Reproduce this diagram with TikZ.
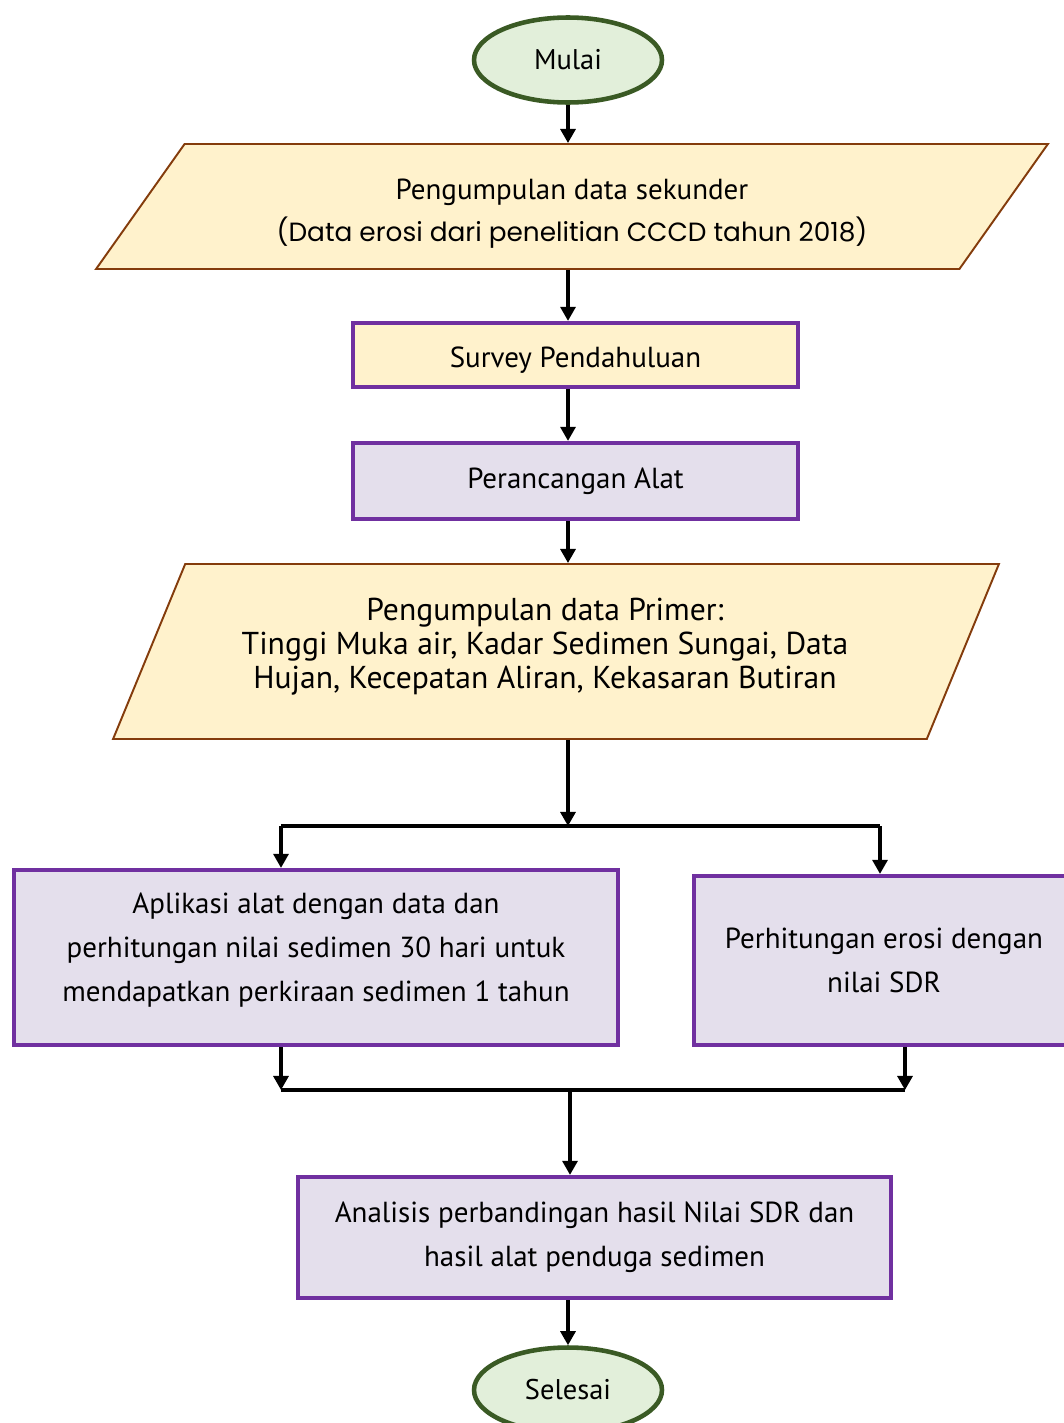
\documentclass[tikz,border=0pt]{standalone}
\usepackage{fontspec}
\setmainfont{PT Sans}
\newfontfamily\gothicfont{Poppins}
\usetikzlibrary{shapes.geometric,arrows.meta}
\definecolor{termfill}{HTML}{E2EFDA}
\definecolor{termline}{HTML}{3A5A24}
\definecolor{yelfill}{HTML}{FFF2CC}
\definecolor{ioline}{HTML}{843C0C}
\definecolor{lavfill}{HTML}{E4DFEC}
\definecolor{purpline}{HTML}{7030A0}

\begin{document}
\begin{tikzpicture}[x=0.02cm,y=-0.02cm,
	termbox/.style={ellipse, draw=termline, fill=termfill, line width=2.6pt, minimum width=3.76cm, minimum height=1.7cm, font=\fontsize{16.2}{19}\selectfont},
	iobox/.style={trapezium, trapezium stretches body, draw=ioline, fill=yelfill, line width=1.1pt, inner ysep=0pt, align=center},
	procbox/.style={rectangle, draw=purpline, line width=2.4pt, align=center, font=\fontsize{16.5}{25}\selectfont},
	arr/.style={-{Triangle[length=8pt,width=8.5pt]}, line width=1.9pt},
	conn/.style={line width=1.9pt}]
			\useasboundingbox (0,0) rectangle (1064,1423);

			% Start and end
			\node[termbox] (mulai) at (568,60) {Mulai};
			\node[termbox] (selesai) at (568,1390) {Selesai};

			% Data input
			\node[iobox, trapezium left angle=54.7, trapezium right angle=125.3, minimum width=19.04cm] (sekunder) at (572,206.5)
				{\parbox[c][2.5cm][c]{15cm}{\centering\vspace{0.3cm}\fontsize{16.5}{24}\selectfont
				Pengumpulan data sekunder\\ {\gothicfont\fontsize{15}{24}\selectfont(Data erosi dari penelitian CCCD tahun 2018)}}};
			\node[iobox, trapezium left angle=67.6, trapezium right angle=112.4, minimum width=17.72cm] (primer) at (556,651.5)
				{\parbox[c][3.5cm][c]{14cm}{\centering\fontsize{18}{19.3}\selectfont
				Pengumpulan data Primer:\\ Tinggi Muka air, Kadar Sedimen Sungai, Data\\ Hujan, Kecepatan Aliran, Kekasaran Butiran\par\vspace{0.2cm}}\hspace*{0.44cm}};

			% Process steps
			\node[procbox, fill=yelfill, minimum width=8.9cm, minimum height=1.28cm] (survey) at (575.5,355)
				{\parbox[c][1cm][c]{8cm}{\centering\vspace{0.2cm}Survey Pendahuluan}};
			\node[procbox, fill=lavfill, minimum width=8.9cm, minimum height=1.52cm] (alat) at (575.5,481) {Perancangan Alat};
			\node[procbox, fill=lavfill, minimum width=12.08cm, minimum height=3.5cm] (aplikasi) at (316,957.5)
				{\parbox[c][3cm][c]{11.5cm}{\centering Aplikasi alat dengan data dan\\ perhitungan nilai sedimen 30 hari untuk\\ mendapatkan perkiraan sedimen 1 tahun\par\vspace{0.28cm}}};
			\node[procbox, fill=lavfill, minimum width=7.6cm, minimum height=3.38cm] (hitung) at (884,960.5)
				{Perhitungan erosi dengan\\ nilai SDR};
			\node[procbox, fill=lavfill, minimum width=11.86cm, minimum height=2.42cm] (analisis) at (594.5,1237.5)
				{Analisis perbandingan hasil Nilai SDR dan\\ hasil alat penduga sedimen};

			% Split and join points
			\coordinate (split) at (568,826);
			\coordinate (splitL) at (281,826);
			\coordinate (splitR) at (880,826);
			\coordinate (joinL) at (281,1090);
			\coordinate (joinR) at (905,1090);
			\coordinate (join) at (570,1090);

			% Main flow
			\draw[arr] (mulai.south) -- (mulai.south |- sekunder.north);
			\draw[arr] (split |- sekunder.south) -- (split |- survey.north);
			\draw[arr] (split |- survey.south) -- (split |- alat.north);
			\draw[arr] (split |- alat.south) -- (split |- primer.north);
			\draw[arr] (split |- primer.south) -- (split);

			% Branches
			\draw[conn] (splitL) -- (splitR);
			\draw[arr] (splitL) -- (splitL |- aplikasi.north);
			\draw[arr] (splitR) -- (splitR |- hitung.north);
			\draw[arr] (joinL |- aplikasi.south) -- (joinL);
			\draw[arr] (joinR |- hitung.south) -- (joinR);
			\draw[conn] (joinL) -- (joinR);
			\draw[arr] (join) -- (join |- analisis.north);
			\draw[arr] (selesai.north |- analisis.south) -- (selesai.north);
		\end{tikzpicture}
\end{document}
